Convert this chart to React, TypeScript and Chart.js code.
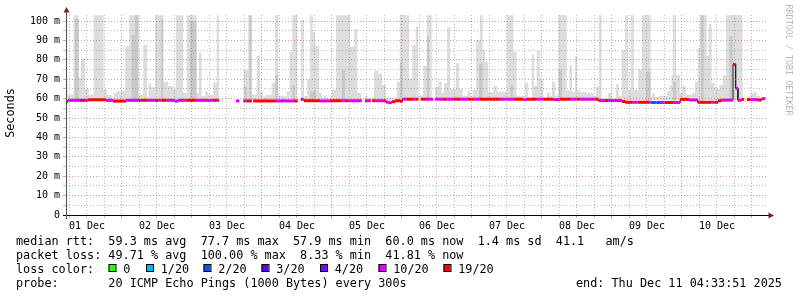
import { useEffect, useRef } from 'react';
import { Chart, registerables } from 'chart.js';

Chart.register(...registerables);

// ---- axis definitions (x in hours since 01 Dec 2025 00:00) ----
const X_MIN = 4.8;
const X_MAX = 245.5;
const END_H = 244.56; // Thu Dec 11 04:33:51
const Y_MAX = 103.1;
const dayLabels = ['01 Dec', '02 Dec', '03 Dec', '04 Dec', '05 Dec', '06 Dec', '07 Dec', '08 Dec', '09 Dec', '10 Dec'];
const yLabels = ['0', '10 m', '20 m', '30 m', '40 m', '50 m', '60 m', '70 m', '80 m', '90 m', '100 m'];

// ---- smoke (outer, light) : step start time / top value in ms ----
const smokeT = [4.56, 5.3, 7.4, 9.2, 9.9, 11.3, 12.6, 14.3, 17.7, 18.8,
  20.6, 21.2, 22.3, 25.1, 26.5, 29.7, 31.3, 32.6, 33.1, 34.0,
  35.3, 38.2, 39.8, 41.5, 42.5, 45.0, 46.2, 49.6, 50.4, 51.3,
  52.5, 53.6, 55.3, 56.5, 57.3, 65.6, 67.3, 68.5, 70.2, 71.3,
  72.4, 73.0, 75.3, 76.5, 77.6, 80.5, 81.4, 82.4, 84.2, 85.3,
  86.4, 87.5, 88.5, 89.4, 90.2, 91.6, 92.5, 93.3, 94.2, 95.9,
  97.4, 102.2, 103.7, 104.7, 106.2, 107.3, 108.1, 110.4, 111.9, 113.2,
  114.5, 118.2, 119.3, 122.4, 123.5, 124.7, 125.6, 127.3, 128.5, 130.2,
  131.3, 132.5, 133.6, 134.4, 135.5, 136.5, 138.5, 139.6, 140.8, 142.4,
  143.6, 144.2, 145.4, 146.7, 147.7, 148.5, 149.6, 151.3, 152.7, 155.9,
  158.2, 159.3, 162.2, 163.3, 164.5, 165.3, 166.2, 167.3, 168.5, 169.6,
  170.7, 171.4, 172.6, 173.6, 176.5, 177.4, 178.3, 179.3, 180.1, 181.0,
  183.3, 185.6, 186.5, 187.5, 188.5, 190.7, 191.9, 193.4, 194.3, 195.3,
  196.5, 197.6, 198.4, 199.5, 201.0, 202.2, 205.3, 205.7, 206.6, 208.3,
  209.6, 210.8, 211.8, 212.4, 212.9, 214.0, 215.3, 216.1, 217.3, 219.6,
  220.5, 221.4, 222.2, 224.5, 225.1, 226.2, 227.2, 227.9, 228.8, 230.0,
  231.1, 236.8, 238.2, 239.3, 240.5, 241.6, 242.7];
const smokeHi = [71, 62, 103, 70.8, 80.8, 65, 62, 103, 65, 62,
  60, 63, 64, 86.8, 103, 62, 87.6, 61, 67.9, 65.8,
  103, 68.7, 66.5, 65, 103, 63, 103, 63, 83.7, 61.3,
  63.6, 62, 68.2, 103, null, 74.7, 103, 62, 82, 63.6,
  61, 62, 68.2, 103, 61.5, 63.6, 84.2, 103, null, 100.5,
  61.3, 70, 103, 94.5, 87.1, 63, 60.5, 61.6, 60.5, 64.4,
  103, 86.8, 95.7, 63, null, 61.6, 60.5, 74.4, 73, 67,
  60.5, 68.7, 103, 70.4, 87.6, 97.4, 61.5, 76.8, 103, 60,
  65.8, 68.7, 63, 67.9, 96.5, 65, 78.2, 65, 61.5, 63.6,
  60.5, 64.5, 90.2, 103, 85.4, 79, 63.5, 66.5, 63.5, 103,
  84.2, 61.5, 68.2, 60.5, 82.5, 66.5, 84.7, 70, 60.5, 63,
  61.5, 68.7, 61.5, 103, 64.5, 77.3, 63.5, 82, 64.5, 63.5,
  63, 61.5, 66, 103, 60, 63, 60, 67.5, 61.5, 85,
  103, 64.5, 103, 64.5, 75.1, 103, 60.5, 62.7, 61, 61.5,
  61.3, 63.6, 67, 72, 103, 72.2, 63, 66.5, 62, 63,
  68.7, 85.9, 103, 82, 98.5, 68, 66, 65, 67, 72,
  103, 60, 61, 62.5, 63.5, 61.5, 60.5];

// ---- smoke (inner, darker) ----
const darkT = [7.7, 9.2, 27.2, 28.5, 29.7, 37.4, 38.2, 47.3, 49.6, 65.9, 66.8, 67.6, 68.5,
  76.5, 77.6, 82.4, 83.3, 88.5, 90.5, 99.3, 100.5, 119.3, 120.3, 128.5, 129.3, 146.4, 147.7,
  157.1, 158.1, 173.6, 175.0, 203.7, 205.3, 212.9, 214.0, 222.4, 223.5, 232.3, 233.4];
const darkHi = [101, null, 92.8, 103, null, 101, null, 100, null, 66, null, 103, null,
  72.2, null, 67, null, 64, null, 74.7, null, 79, null, 92, null, 78, null,
  67, null, 74.7, null, 73.9, null, 68.7, null, 103, null, 92.3, null];
const SMOKE_FLOOR = 59;

// ---- median rtt (ms) and loss class per step ----
const medT = [4.56, 5.5, 9.4, 10.2, 11.3, 12.4, 18.5, 20.9, 25.4, 29.6,
  30.4, 32.5, 35.3, 36.4, 37.6, 39.3, 42.2, 43.3, 46.2, 49.0,
  55.3, 56.5, 57.3, 63.1, 64.2, 65.6, 66.7, 68.5, 69.0, 76.5,
  78.8, 79.4, 82.7, 84.2, 85.3, 86.4, 91.9, 95.3, 99.3, 100.5,
  101.6, 106.2, 107.3, 109.3, 109.8, 111.0, 113.6, 114.5, 115.3, 116.5,
  117.6, 119.3, 120.2, 121.6, 123.9, 124.7, 125.6, 126.5, 127.9, 130.7,
  131.3, 134.1, 135.3, 137.5, 139.9, 142.7, 144.5, 146.7, 153.6, 158.2,
  161.6, 162.8, 166.2, 168.5, 171.9, 174.2, 177.6, 179.9, 181.2, 186.3,
  187.4, 189.6, 190.7, 195.4, 196.6, 199.1, 200.8, 204.9, 205.6, 206.8,
  207.3, 208.4, 210.1, 213.0, 215.4, 218.3, 221.4, 226.2, 227.2, 228.4,
  229.6, 233.5, 234.4, 235.2, 236.4, 237.2, 238.3, 239.0, 241.7, 243.4];
const medV = [58.6, 59.1, 59.1, 59.1, 59.1, 59.4, 59.1, 58.7, 59.1, 59.1,
  59.1, 59.1, 59.1, 59.1, 59.1, 59.1, 58.7, 59.1, 59.1, 59.1,
  59.1, 59.1, null, 58.8, null, 58.8, 58.8, null, 58.8, 58.8,
  58.8, 58.8, 58.8, null, 59.6, 58.9, 58.8, 58.9, 58.9, 58.9,
  58.9, null, 58.9, null, 58.9, 58.9, 58.9, 58.2, 57.9, 58.4,
  58.9, 58.6, 59.7, 59.7, 59.7, 59.7, null, 59.7, 59.7, null,
  59.7, 59.7, 59.7, 59.7, 59.7, 59.7, 59.7, 59.7, 59.7, 59.7,
  59.5, 59.7, 59.7, 59.7, 59.5, 59.7, 59.7, 59.7, 59.7, 59.7,
  59.0, 59.0, 59.0, 58.5, 58.1, 58.1, 58.1, 58.1, 58.0, 58.0,
  58.0, 58.0, 58.0, 58.0, 59.6, 59.3, 58.1, 58.1, 58.1, 58.9,
  59.2, 77.7, 65.3, 59.1, 59.6, null, 59.5, 59.5, 59.3, 60.0];
const medLoss = [10, 10, 4, 19, 10, 19, 10, 19, 10, 4,
  19, 10, 19, 10, 19, 10, 10, 10, 19, 10,
  19, 10, null, 10, null, 10, 19, null, 19, 10,
  4, 10, 19, null, 10, 19, 10, 19, 10, 19,
  10, null, 10, null, 19, 10, 19, 10, 10, 19,
  19, 19, 10, 19, 10, 19, null, 19, 10, null,
  10, 19, 10, 19, 10, 19, 10, 19, 10, 19,
  10, 19, 10, 19, 10, 19, 10, 19, 10, 19,
  10, 19, 10, 19, 19, 10, 19, 10, 2, 10,
  2, 10, 19, 10, 19, 10, 19, 10, 19, 19,
  10, 19, 10, 10, 19, null, 19, 10, 19, 10];

const lossClasses = [0, 1, 2, 3, 4, 10, 19];
const lossNames = ['0', '1/20', '2/20', '3/20', '4/20', '10/20', '19/20'];
const lossColors = ['#26ff00', '#00b8ff', '#0059ff', '#5e00ff', '#7e00ff', '#dd00ff', '#ff0000'];

const statLines = [
  'median rtt:  59.3 ms avg  77.7 ms max  57.9 ms min  60.0 ms now  1.4 ms sd  41.1   am/s',
  'packet loss: 49.71 % avg  100.00 % max  8.33 % min  41.81 % now',
  'loss color:',
  'probe:       20 ICMP Echo Pings (1000 Bytes) every 300s',
];
const endText = 'end: Thu Dec 11 04:33:51 2025';

// ---- helpers building the point tables ----
function stepPoints(t: number[], v: (number | null)[], end: number) {
  const pts: { x: number; y: number | null }[] = [];
  for (let i = 0; i < v.length; i++) {
    const t1 = i + 1 < t.length ? t[i + 1] : end;
    if (v[i] == null) { pts.push({ x: t[i], y: null }); continue; }
    pts.push({ x: t[i], y: v[i] }, { x: t1, y: v[i] });
  }
  return pts;
}

function medianBars() {
  const pts: { x: number; y: number | null }[] = [];
  const cols: string[] = [];
  for (let i = 0; i < medV.length; i++) {
    if (medV[i] == null) continue;
    const t1 = i + 1 < medT.length ? medT[i + 1] : END_H;
    const c = lossColors[lossClasses.indexOf(medLoss[i] as number)];
    pts.push({ x: medT[i], y: medV[i] }, { x: t1, y: medV[i] }, { x: t1, y: null });
    cols.push(c, c, c);
  }
  return { pts, cols };
}

const MONO = '"DejaVu Sans Mono", monospace';

const decorPlugin = {
  id: 'decor',
  afterDraw(chart: any) {
    const ctx: CanvasRenderingContext2D = chart.ctx;
    const { left, right, top, bottom } = chart.chartArea;
    ctx.save();
    // axes
    ctx.lineWidth = 1;
    ctx.strokeStyle = '#000000';
    ctx.beginPath();
    ctx.moveTo(left - 3, bottom + 0.5);
    ctx.lineTo(right + 1, bottom + 0.5);
    ctx.stroke();
    ctx.strokeStyle = '#505050';
    ctx.beginPath();
    ctx.moveTo(left + 0.5, bottom + 4);
    ctx.lineTo(left + 0.5, top - 3);
    ctx.stroke();
    // arrows
    ctx.fillStyle = '#7f1f1f';
    ctx.beginPath();
    ctx.moveTo(right + 0.5, bottom + 0.5 - 3);
    ctx.lineTo(right + 6, bottom + 0.5);
    ctx.lineTo(right + 0.5, bottom + 0.5 + 3);
    ctx.closePath();
    ctx.fill();
    ctx.beginPath();
    ctx.moveTo(left + 0.5 - 3, top - 2.5);
    ctx.lineTo(left + 0.5, top - 8);
    ctx.lineTo(left + 0.5 + 3, top - 2.5);
    ctx.closePath();
    ctx.fill();

    // axis title
    ctx.fillStyle = '#000';
    ctx.font = `11.8px ${MONO}`;
    ctx.save();
    ctx.translate(10.5, 113);
    ctx.rotate(-Math.PI / 2);
    ctx.textAlign = 'center';
    ctx.textBaseline = 'middle';
    ctx.fillText('Seconds', 0, 0);
    ctx.restore();

    // watermark
    ctx.save();
    ctx.fillStyle = '#b8b8b8';
    ctx.font = `8.4px ${MONO}`;
    ctx.translate(788, 60);
    ctx.rotate(Math.PI / 2);
    ctx.textAlign = 'center';
    ctx.textBaseline = 'middle';
    ctx.fillText('RRDTOOL / TOBI OETIKER', 0, 0);
    ctx.restore();

    // legend lines
    ctx.fillStyle = '#000';
    ctx.font = `11.8px ${MONO}`;
    ctx.textAlign = 'left';
    ctx.textBaseline = 'alphabetic';
    const base = [245, 259, 273, 287];
    statLines.forEach((s, i) => ctx.fillText(s, 16, base[i]));
    ctx.fillText(endText, 576, 287);

    const swX = [108.5, 146, 203.5, 261.5, 320, 378.5, 443.5];
    lossNames.forEach((name, i) => {
      ctx.fillStyle = lossColors[i];
      ctx.fillRect(swX[i], 264.5, 7, 7);
      ctx.strokeStyle = '#000';
      ctx.lineWidth = 1;
      ctx.strokeRect(swX[i] + 0.5, 264.5, 7, 7);
      ctx.fillStyle = '#000';
      ctx.fillText(name, swX[i] + 14.7, 273);
    });
    ctx.restore();
  },
};

export default function App() {
  const ref = useRef<HTMLCanvasElement>(null);
  useEffect(() => {
    const { pts, cols } = medianBars();
    const gridRed = 'rgba(222,79,79,0.6)';
    const gridGray = 'rgba(128,128,128,0.5)';
    const chart = new Chart(ref.current as HTMLCanvasElement, {
      type: 'line',
      data: {
        datasets: [
          {
            data: pts as any,
            order: 0,
            borderWidth: 3,
            borderCapStyle: 'butt',
            borderColor: '#dd00ff',
            pointRadius: 0,
            spanGaps: false,
            fill: false,
            segment: { borderColor: (c: any) => cols[c.p0DataIndex] },
          } as any,
          {
            data: stepPoints(medT, medV, END_H) as any,
            order: 1,
            borderWidth: 1,
            borderColor: '#202020',
            pointRadius: 0,
            spanGaps: false,
            fill: false,
          },
          {
            data: stepPoints(darkT, darkHi, END_H) as any,
            order: 2,
            borderWidth: 0,
            borderColor: 'rgba(0,0,0,0)',
            backgroundColor: '#c8c8c8',
            pointRadius: 0,
            spanGaps: false,
            fill: { value: SMOKE_FLOOR },
          } as any,
          {
            data: stepPoints(smokeT, smokeHi, END_H) as any,
            order: 3,
            borderWidth: 0,
            borderColor: 'rgba(0,0,0,0)',
            backgroundColor: '#dddddd',
            pointRadius: 0,
            spanGaps: false,
            fill: { value: SMOKE_FLOOR },
          } as any,
        ],
      },
      options: {
        responsive: false,
        animation: false,
        devicePixelRatio: 1,
        events: [],
        layout: { padding: { left: 0, right: 29, top: 15, bottom: 0 } },
        plugins: { legend: { display: false }, tooltip: { enabled: false }, title: { display: false } },
        scales: {
          x: {
            type: 'linear',
            min: X_MIN,
            max: X_MAX,
            afterBuildTicks: (scale: any) => {
              const t = [];
              for (let h = 6; h <= 240; h += 6) t.push({ value: h });
              scale.ticks = t;
            },
            afterFit: (scale: any) => { scale.height = 82; },
            ticks: {
              autoSkip: false,
              maxRotation: 0,
              minRotation: 0,
              padding: 2,
              color: '#000',
              font: { family: MONO, size: 10 },
              callback: (v: any) => {
                const h = Number(v);
                return (h - 12) % 24 === 0 ? dayLabels[(h - 12) / 24] : '';
              },
            },
            grid: {
              z: 1,
              lineWidth: 1,
              tickLength: 3,
              color: (c: any) => (c.tick && c.tick.value % 24 === 0 ? gridRed : gridGray),
              tickColor: (c: any) => (c.tick && c.tick.value % 24 === 0 ? gridRed : gridGray),
            },
            border: { display: false, dash: [1, 2] },
          },
          y: {
            type: 'linear',
            min: 0,
            max: Y_MAX,
            afterBuildTicks: (scale: any) => {
              const t = [];
              for (let v = 0; v <= 100; v += 5) t.push({ value: v });
              scale.ticks = t;
            },
            afterFit: (scale: any) => { scale.width = 66; },
            ticks: {
              autoSkip: false,
              padding: 3,
              color: '#000',
              font: { family: MONO, size: 10 },
              callback: (v: any) => {
                const n = Number(v);
                return n % 10 === 0 ? yLabels[n / 10] : '';
              },
            },
            grid: {
              z: 1,
              lineWidth: 1,
              tickLength: 3,
              color: (c: any) => (c.tick && c.tick.value % 10 === 0 ? gridRed : gridGray),
              tickColor: (c: any) => (c.tick && c.tick.value % 10 === 0 ? gridRed : gridGray),
            },
            border: { display: false, dash: [1, 2] },
          },
        },
      } as any,
      plugins: [decorPlugin],
    });
    return () => chart.destroy();
  }, []);
  return (
    <div style={{ position: 'fixed', left: 0, top: 0, width: 797, height: 297, background: '#fff' }}>
      <canvas ref={ref} width={797} height={297} style={{ display: 'block', width: 797, height: 297 }} />
    </div>
  );
}
